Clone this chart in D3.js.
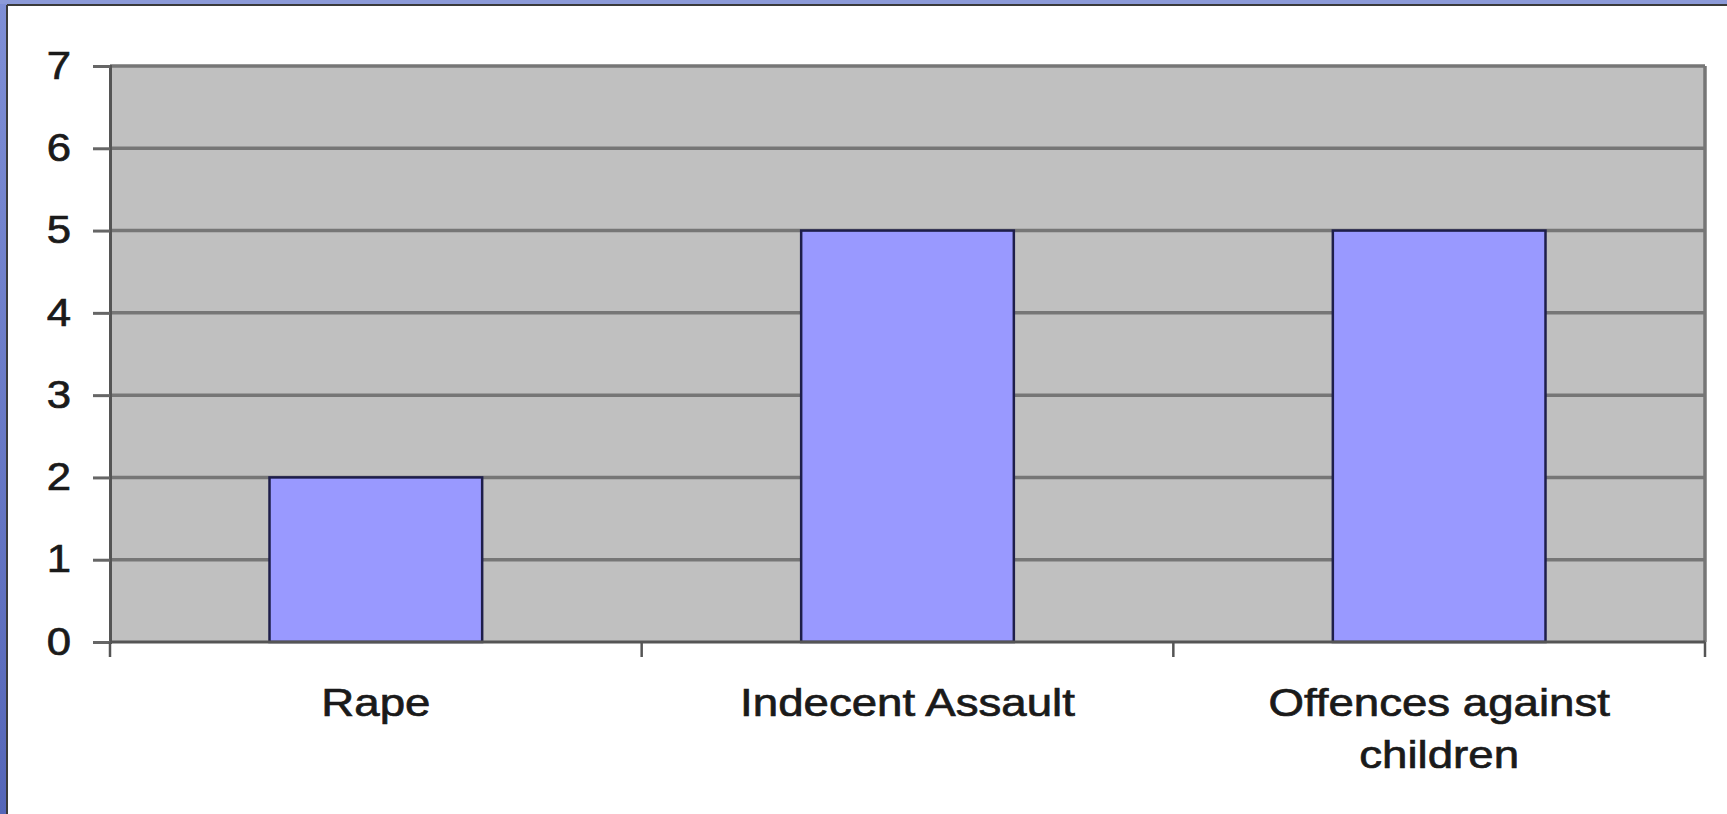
<!DOCTYPE html>
<html><head><meta charset="utf-8">
<script src="https://cdn.jsdelivr.net/npm/d3@7"></script>
<style>html,body{margin:0;padding:0;background:#fff;overflow:hidden}</style>
</head><body>
<svg id="c" width="1727" height="814"></svg>
<script>
const categories = [["Rape"], ["Indecent Assault"], ["Offences against", "children"]];
const values = [2, 5, 5];
const yTicks = [0, 1, 2, 3, 4, 5, 6, 7];

const svg = d3.select("#c");
const W = 1727, H = 814;
const m = {left: 110, right: 1705, top: 66, bottom: 642};
const FONT = "Liberation Sans, Arial, sans-serif";

// slide frame
const defs = svg.append("defs");
const g1 = defs.append("linearGradient").attr("id","fr").attr("x1",0).attr("y1",0).attr("x2",0).attr("y2",1);
g1.append("stop").attr("offset",0).attr("stop-color","#7f8fd6");
g1.append("stop").attr("offset",1).attr("stop-color","#5566b8");
svg.append("rect").attr("x",0).attr("y",0).attr("width",W).attr("height",H).attr("fill","#fff");
svg.append("rect").attr("x",0).attr("y",0).attr("width",7).attr("height",H).attr("fill","url(#fr)");
svg.append("rect").attr("x",0).attr("y",0).attr("width",W).attr("height",4).attr("fill","#8c9ad8");
svg.append("line").attr("x1",7).attr("x2",7).attr("y1",5).attr("y2",H).attr("stroke","#3a3a3a").attr("stroke-width",2);
svg.append("line").attr("x1",7).attr("x2",W).attr("y1",5).attr("y2",5).attr("stroke","#3a3a3a").attr("stroke-width",2);

const x = d3.scaleBand().domain(d3.range(categories.length)).range([m.left, m.right]).paddingInner(0).paddingOuter(0);
const y = d3.scaleLinear().domain([0, 7]).range([m.bottom, m.top]);

// plot area
svg.append("rect").attr("x", m.left).attr("y", m.top).attr("width", m.right - m.left).attr("height", m.bottom - m.top)
  .attr("fill", "#c0c0c0");

// gridlines
svg.append("g").selectAll("line").data(yTicks.filter(d => d > 0)).join("line")
  .attr("x1", m.left).attr("x2", m.right).attr("y1", d => y(d)).attr("y2", d => y(d))
  .attr("stroke", "#767676").attr("stroke-width", 3.5);

// right border
svg.append("line").attr("x1", m.right).attr("x2", m.right).attr("y1", m.top).attr("y2", m.bottom)
  .attr("stroke", "#767676").attr("stroke-width", 3.5);

// bars
const bw = x.bandwidth() * 0.4;
svg.append("g").selectAll("rect").data(values).join("rect")
  .attr("x", (d, i) => x(i) + x.bandwidth() / 2 - bw / 2)
  .attr("width", bw)
  .attr("y", d => y(d))
  .attr("height", d => y(0) - y(d))
  .attr("fill", "#9999ff").attr("stroke", "#1e1e4a").attr("stroke-width", 2.5);

// y axis
const ya = d3.axisLeft(y).tickValues(yTicks).tickSize(17).tickPadding(0).tickFormat(d3.format("d"));
const yg = svg.append("g").attr("transform", `translate(${m.left},0)`).call(ya);
yg.select(".domain").attr("stroke", "#555").attr("stroke-width", 3);
yg.selectAll(".tick line").attr("stroke", "#666").attr("stroke-width", 3);
yg.selectAll(".tick text")
  .attr("font-family", FONT).attr("font-size", 38).attr("fill", "#1a1a1a")
  .attr("stroke", "#1a1a1a").attr("stroke-width", 0.7)
  .attr("transform", "scale(1.15,1)")
  .attr("x", -(m.left - 71) / 1.15);

// x axis
const xEdges = d3.range(categories.length + 1).map(i => m.left + i * x.bandwidth());
svg.append("line").attr("x1", m.left).attr("x2", m.right).attr("y1", m.bottom).attr("y2", m.bottom)
  .attr("stroke", "#555").attr("stroke-width", 3);
svg.append("g").selectAll("line").data(xEdges).join("line")
  .attr("x1", d => d).attr("x2", d => d).attr("y1", m.bottom).attr("y2", m.bottom + 15)
  .attr("stroke", "#555").attr("stroke-width", 2.5);

const lab = svg.append("g").attr("font-family", FONT).attr("font-size", 39).attr("fill", "#1a1a1a")
  .attr("stroke", "#1a1a1a").attr("stroke-width", 0.7).attr("text-anchor", "middle");
categories.forEach((lines, i) => {
  const cx = x(i) + x.bandwidth() / 2;
  const t = lab.append("text").attr("transform", `translate(${cx},0) scale(1.17,1)`);
  lines.forEach((ln, j) => t.append("tspan").attr("x", 0).attr("y", 716 + j * 52).text(ln));
});
</script>
</body></html>
